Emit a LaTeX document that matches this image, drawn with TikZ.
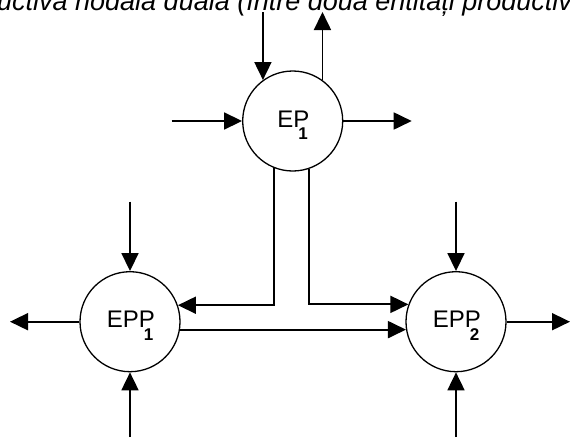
\documentclass[tikz,border=0pt]{standalone}
\usepackage{fontspec}
\setmainfont{Liberation Sans}
\usetikzlibrary{arrows.meta}

\newcommand{\entlabel}[2]{#1\kern-11pt\raisebox{-12.3pt}{\fontsize{17}{17}\selectfont\bfseries #2}}
\newcommand{\titlefont}{\fontsize{27}{31}\selectfont\itshape}
\newlength{\titleshift}

\tikzset{
  entity/.style={circle, draw, line width=1.3pt, minimum size=100pt, inner sep=0pt,
    font=\fontsize{24}{28}\selectfont, text height=12pt, text depth=0pt},
  flow/.style={line width=1.8pt, -{Triangle[length=18pt,width=17pt]}}
}

\begin{document}
\settowidth{\titleshift}{\titlefont Structura prod}
\addtolength{\titleshift}{3pt}
\begin{tikzpicture}[x=1pt,y=-1pt]
  \useasboundingbox (0,0) rectangle (570,437);
  \clip (0,0) rectangle (570,437);
  % title, only its lower half is on the page
  \node[anchor=base west, inner sep=0pt, font=\titlefont] (title) at (-\titleshift,10)
    {Structura productivă nodală duală (între două entități productive)};

  % entities
  \node[entity] (ep) at (292.7,121) {\entlabel{EP}{1}};
  \node[entity] (eppa) at (130,321.7) {\entlabel{EPP}{1}};
  \node[entity] (eppb) at (456,321.7) {\entlabel{EPP}{2}};

  % free ends
  \coordinate (epin) at (ep.126 |- 0,12);
  \coordinate (epout) at (ep.54 |- 0,12);
  \coordinate (epleft) at (171.7,121);
  \coordinate (epright) at (411.7,121);
  \coordinate (eppatop) at (130,201.7);
  \coordinate (eppabot) at (130,437);
  \coordinate (eppaleft) at (10,321.7);
  \coordinate (eppbtop) at (456,201.7);
  \coordinate (eppbbot) at (456,437);
  \coordinate (eppbright) at (570,321.7);

  % around EP1
  \draw[flow] (epin) -- (ep.126);
  \draw[flow] (ep.54) -- (epout);
  \draw[flow] (epleft) -- (ep);
  \draw[flow] (ep) -- (epright);

  % split flow down to the two entities
  \draw[flow] (ep.248) |- (eppa.19.5);
  \draw[flow] (ep.289) |- (eppb.160.5);
  \draw[flow] (eppa.-9.5) -- (eppb.189.5);

  % around EPP1
  \draw[flow] (eppatop) -- (eppa);
  \draw[flow] (eppabot) -- (eppa);
  \draw[flow] (eppa) -- (eppaleft);

  % around EPP2
  \draw[flow] (eppbtop) -- (eppb);
  \draw[flow] (eppbbot) -- (eppb);
  \draw[flow] (eppb) -- (eppbright);
\end{tikzpicture}
\end{document}
